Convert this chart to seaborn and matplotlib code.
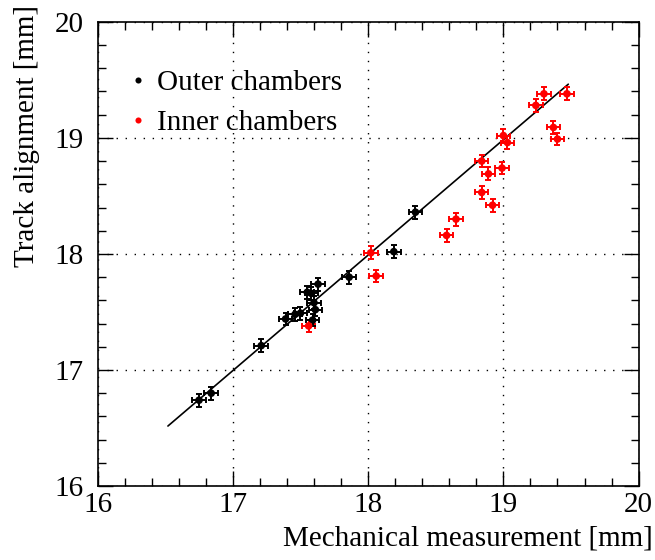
import matplotlib

matplotlib.use("Agg")
import matplotlib.pyplot as plt
import numpy as np
import pandas as pd
import seaborn as sns
from matplotlib.ticker import MultipleLocator

# Outer chambers (mechanical, track alignment) in mm
outer_mech = [16.75, 16.84, 17.21, 17.39, 17.46, 17.50, 17.55, 17.58, 17.63,
              17.60, 17.61, 17.59, 17.86, 18.19, 18.35]
outer_track = [16.74, 16.80, 17.21, 17.44, 17.48, 17.49, 17.67, 17.66, 17.74,
               17.58, 17.52, 17.43, 17.80, 18.02, 18.36]

# Inner chambers
inner_mech = [17.56, 18.02, 18.06, 18.58, 18.65, 18.84, 18.92, 18.84, 18.89,
              18.99, 19.00, 19.03, 19.24, 19.30, 19.47, 19.37, 19.40]
inner_track = [17.38, 18.01, 17.81, 18.16, 18.30, 18.53, 18.42, 18.80, 18.69,
               18.74, 19.02, 18.96, 19.28, 19.38, 19.38, 19.09, 18.99]

# Uncertainties (mm)
err_mech = 0.05
err_track = 0.055

# Straight-line fit
fit_intercept = 0.08
fit_slope = 0.995
fit_range = [16.52, 19.48]

df = pd.DataFrame({
    "mech": outer_mech + inner_mech,
    "track": outer_track + inner_track,
    "group": ["Outer chambers"] * len(outer_mech) + ["Inner chambers"] * len(inner_mech),
})
palette = {"Outer chambers": "black", "Inner chambers": "#ff0000"}

sns.set_theme(style="white")
plt.rcParams["font.family"] = ["Liberation Serif", "DejaVu Serif"]
for key in ["text.color", "axes.labelcolor", "xtick.color", "ytick.color"]:
    plt.rcParams[key] = "black"

fig = plt.figure(figsize=(6.55, 5.6), dpi=100)
ax = fig.add_axes([0.149, 0.132, 0.826, 0.829])

# fit line
fx = np.array(fit_range)
ax.plot(fx, fit_intercept + fit_slope * fx, color="black", lw=1.2, zorder=2)

for name, sub in df.groupby("group"):
    ax.errorbar(sub["mech"], sub["track"], xerr=err_mech, yerr=err_track,
                fmt="none", ecolor=palette[name], elinewidth=1.4,
                capsize=2, capthick=1.4, zorder=3)

sns.scatterplot(data=df, x="mech", y="track", hue="group", palette=palette,
                hue_order=["Outer chambers", "Inner chambers"],
                s=30, edgecolor="none", ax=ax, zorder=4)

ax.set_xlim(16, 20)
ax.set_ylim(16, 20)
ax.xaxis.set_major_locator(MultipleLocator(1))
ax.yaxis.set_major_locator(MultipleLocator(1))
ax.xaxis.set_minor_locator(MultipleLocator(0.2))
ax.yaxis.set_minor_locator(MultipleLocator(0.2))
ax.tick_params(which="both", direction="in", top=True, right=True,
               bottom=True, left=True, color="black")
ax.tick_params(which="major", length=11, width=1, labelsize=21)
ax.tick_params(axis="x", which="major", pad=4)
ax.tick_params(axis="y", which="major", pad=10)
ax.tick_params(which="minor", length=5.5, width=1)
ax.grid(True, which="major", color="black", linestyle=(0, (1, 5.5)), lw=1)
for sp in ax.spines.values():
    sp.set_color("black")
    sp.set_linewidth(1.2)

ax.set_xlabel("Mechanical measurement [mm]", fontsize=21, loc="right")
ax.set_ylabel("Track alignment [mm]", fontsize=21, loc="top")
ax.xaxis.set_label_coords(1.026, -0.085)
ax.yaxis.set_label_coords(-0.107, 1.037)

leg = ax.legend(loc="upper left", bbox_to_anchor=(0.027, 0.922), frameon=False,
                fontsize=21, handlelength=1.0, handletextpad=0.12,
                markerscale=0.8, labelspacing=0.47, borderaxespad=0)

fig.savefig("out.png", dpi=100)
